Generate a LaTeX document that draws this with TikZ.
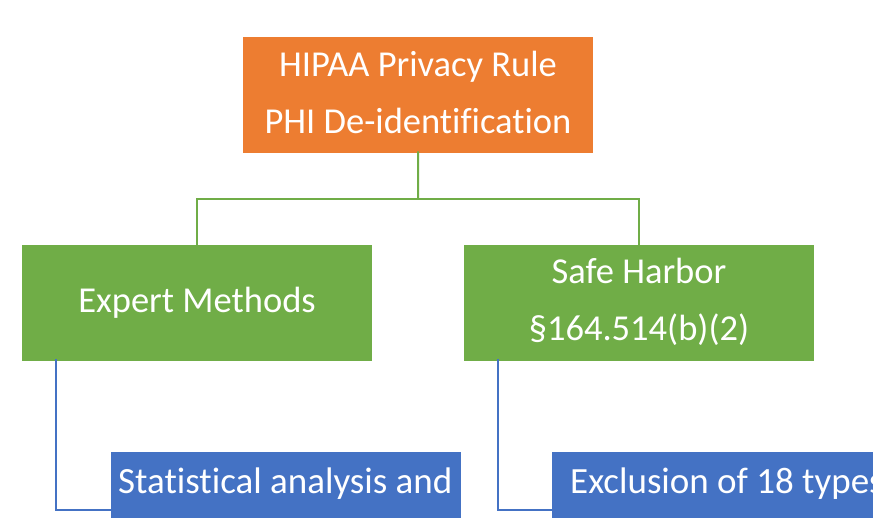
\documentclass[tikz,border=0pt]{standalone}
\usepackage{fontspec}
\setmainfont{Carlito}[Ligatures={NoCommon}]
\definecolor{orng}{HTML}{ED7D31}
\definecolor{grn}{HTML}{70AD47}
\definecolor{blu}{HTML}{4472C4}
\begin{document}
\begin{tikzpicture}[x=1pt,y=-1pt,
  box/.style={minimum width=350pt,minimum height=116pt,inner sep=0pt,draw=none,anchor=north west},
  txt/.style={text=white,anchor=base,inner sep=0pt,font=\fontsize{36.5}{40}\selectfont},
  btxt/.style={text=white,anchor=base,inner sep=0pt,font=\fontsize{37}{42}\selectfont},
  gline/.style={draw=grn,line width=2pt},
  bline/.style={draw=blu,line width=2pt}]
\useasboundingbox (0,0) rectangle (873,518);
\clip (0,0) rectangle (873,518);
\fill[white] (0,0) rectangle (873,518);
% boxes
\node[box,fill=orng] (top) at (243,37) {};
\node[box,fill=grn] (em) at (22,244.5) {};
\node[box,fill=grn] (sh) at (464,244.5) {};
\node[box,fill=blu] (sa) at (110.5,452) {};
\node[box,fill=blu] (ex) at (552,452) {};
% texts
\node[txt] (t1) at (418,76.7) {HIPAA Privacy Rule};
\node[txt] (t2) at (418,133.3) {PHI De-identification};
\node[txt] (t3) at (197,312.7) {Expert Methods};
\node[txt] (t4) at (639,284) {Safe Harbor};
\node[txt] (t5) at (639,340.5) {§164.514(b)(2)};
\node[btxt] (t6) at (285.3,493.3) {Statistical analysis and};
\node[btxt] (t7) at (727,493.3) {Exclusion of 18 types};
% connectors
\draw[gline] ([yshift=2pt]top.south) -- (418,199) coordinate (jn);
\draw[gline] (jn) -| ([yshift=-2.5pt]em.north);
\draw[gline] (jn) -| ([yshift=-2.5pt]sh.north);
\draw[bline] ([xshift=34pt,yshift=2pt]em.south west) |- (sa.west);
\draw[bline] ([xshift=34pt,yshift=2pt]sh.south west) |- (ex.west);
\end{tikzpicture}
\end{document}
